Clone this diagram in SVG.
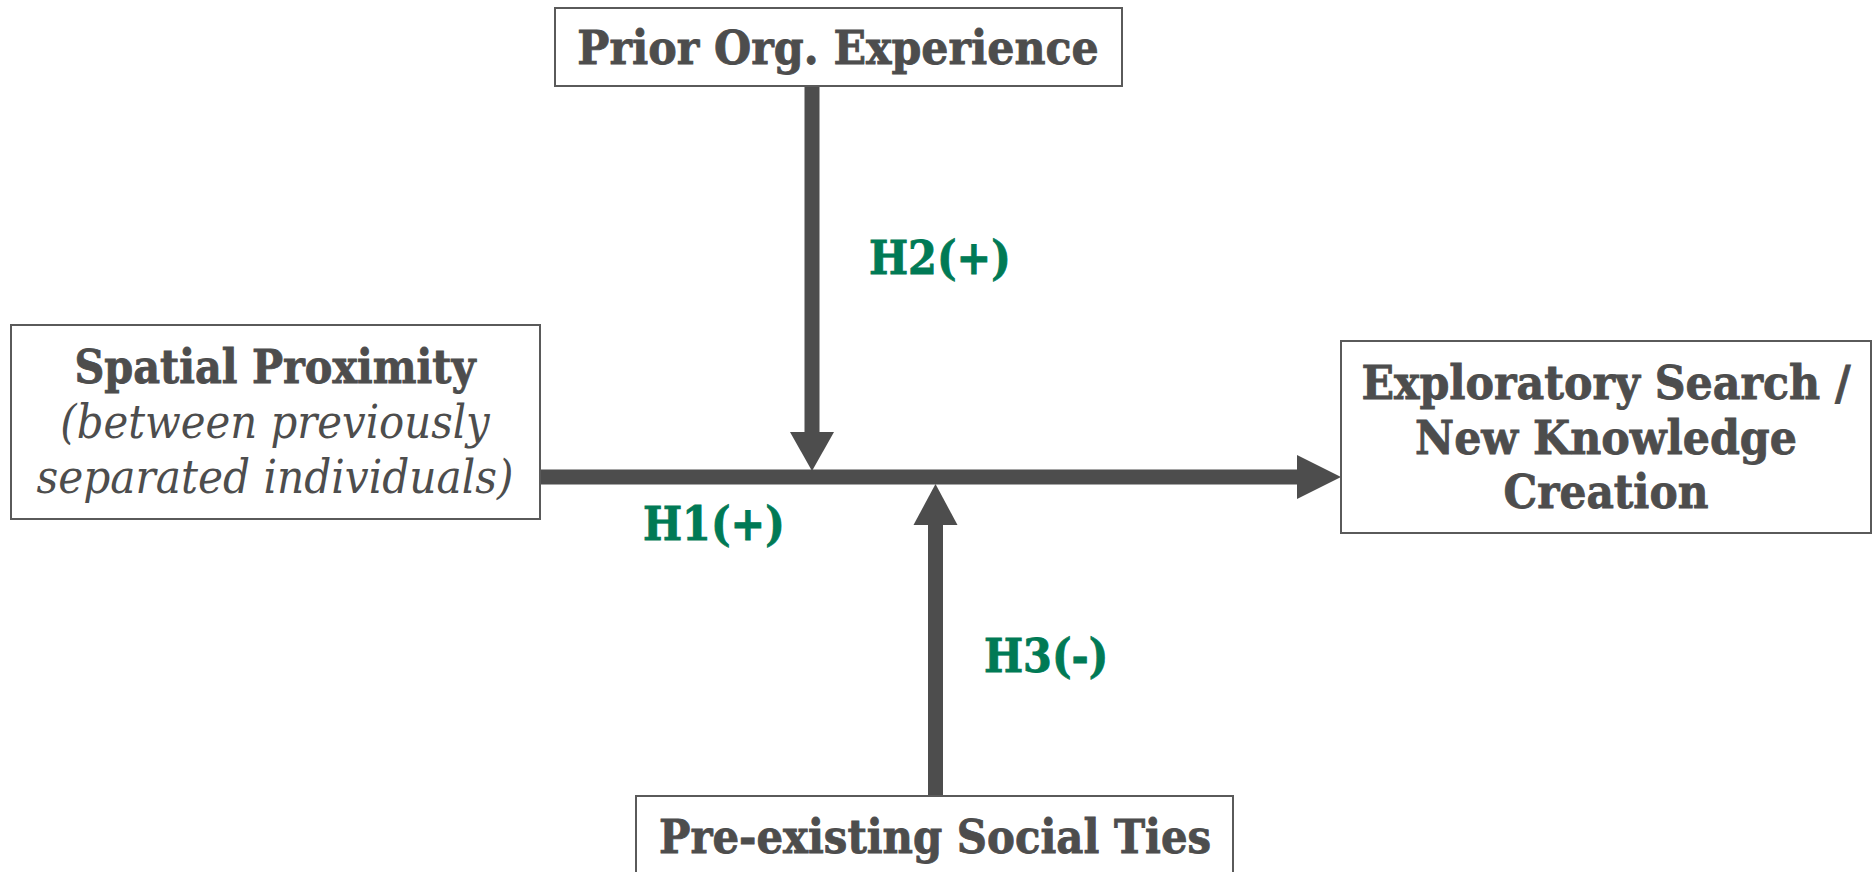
<svg xmlns="http://www.w3.org/2000/svg" width="1875" height="872" viewBox="0 0 1875 872">
<defs>
<style>
.box{fill:#ffffff;stroke:#5a5a5a;stroke-width:2}
.t{font-family:"DejaVu Serif","Liberation Serif",serif;font-stretch:condensed;fill:#4d4d4d;text-anchor:middle}
.b{font-weight:bold;stroke:#4d4d4d;stroke-width:0.8}
.i{font-style:italic;font-weight:normal}
.lbl{font-family:"DejaVu Serif","Liberation Serif",serif;font-stretch:condensed;font-weight:bold;fill:#007a55;stroke:#007a55;stroke-width:0.8;font-size:46px}
.line{stroke:#4d4d4d;stroke-width:15;fill:none}
.head{fill:#4d4d4d}
</style>
</defs>
<rect width="1875" height="872" fill="#ffffff"/>
<g id="connectors">
<line class="line" x1="540" y1="477" x2="1300" y2="477"/>
<polygon class="head" points="1297,455 1341,477 1297,499"/>
<line class="line" x1="812" y1="86" x2="812" y2="434"/>
<polygon class="head" points="790,432 834,432 812,471"/>
<line class="line" x1="935.5" y1="796" x2="935.5" y2="522"/>
<polygon class="head" points="913.5,525 957.5,525 935.5,484"/>
</g>
<g id="prior">
<rect class="box" x="555" y="8" width="567" height="78"/>
<text class="t b" x="838" y="64" font-size="47.5">Prior Org. Experience</text>
</g>
<g id="spatial">
<rect class="box" x="11" y="325" width="529" height="194"/>
<text class="t b" x="275" y="383" font-size="46">Spatial Proximity</text>
<text class="t i" x="275" y="438" font-size="46.5">(between previously</text>
<text class="t i" x="275" y="493" font-size="47">separated individuals)</text>
</g>
<g id="exploratory">
<rect class="box" x="1341" y="341" width="530" height="192"/>
<text class="t b" x="1606" y="399" font-size="47.5">Exploratory Search /</text>
<text class="t b" x="1606" y="454" font-size="47.5">New Knowledge</text>
<text class="t b" x="1606" y="508" font-size="47">Creation</text>
</g>
<g id="social">
<rect class="box" x="636" y="796" width="597" height="90"/>
<text class="t b" x="935" y="853" font-size="46.5">Pre-existing Social Ties</text>
</g>
<g id="labels">
<text class="lbl" x="643" y="540">H1(+)</text>
<text class="lbl" x="869" y="274">H2(+)</text>
<text class="lbl" x="984" y="672">H3(-)</text>
</g>
</svg>
